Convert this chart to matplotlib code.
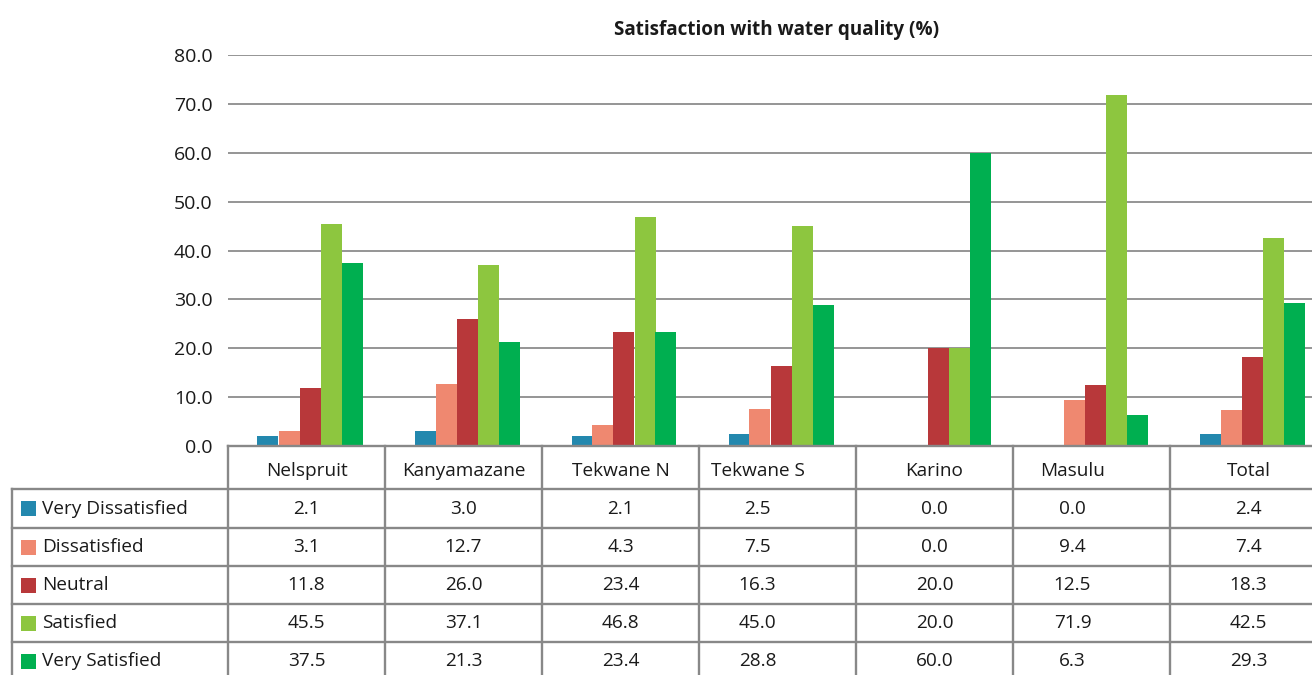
import matplotlib
matplotlib.use("Agg")
import matplotlib.pyplot as plt
import numpy as np

# Survey results: satisfaction with water quality (%)
categories = ["Nelspruit", "Kanyamazane", "Tekwane N", "Tekwane S", "Karino", "Masulu", "Total"]
series_names = ["Very Dissatisfied", "Dissatisfied", "Neutral", "Satisfied", "Very Satisfied"]
very_dissatisfied = [2.1, 3.0, 2.1, 2.5, 0.0, 0.0, 2.4]
dissatisfied = [3.1, 12.7, 4.3, 7.5, 0.0, 9.4, 7.4]
neutral = [11.8, 26.0, 23.4, 16.3, 20.0, 12.5, 18.3]
satisfied = [45.5, 37.1, 46.8, 45.0, 20.0, 71.9, 42.5]
very_satisfied = [37.5, 21.3, 23.4, 28.8, 60.0, 6.3, 29.3]
y_ticks = [0, 10, 20, 30, 40, 50, 60, 70, 80]

series = [very_dissatisfied, dissatisfied, neutral, satisfied, very_satisfied]
colors = ["#2388AE", "#EF8870", "#B8383A", "#8DC63F", "#00AF50"]

FONT = "Open Sans"
plt.rcParams["font.family"] = [FONT, "DejaVu Sans"]

W, H = 1312, 675
fig = plt.figure(figsize=(W / 100, H / 100), dpi=100)

# layout in pixels
x0 = 228          # left edge of the plot / first table column
col_w = 157       # width of one category column
y_zero = 446      # baseline of the bars
y_top = 55        # position of the 80.0 gridline
n = len(categories)

ax = fig.add_axes([x0 / W, (H - y_zero) / H, n * col_w / W, (y_zero - y_top) / H])
ax.set_xlim(0, n)
ax.set_ylim(0, 80)

bar_w = 21 / col_w
xc = np.arange(n) + 0.5 + 3.5 / col_w
for i, (vals, c) in enumerate(zip(series, colors)):
    ax.bar(xc + (i - 2) * bar_w, vals, width=bar_w, color=c, zorder=3, linewidth=0)

ax.set_yticks(y_ticks)
ax.set_yticklabels([f"{v:.1f}" for v in y_ticks], fontsize=14, color="#1a1a1a")
ax.yaxis.grid(True, color="#8c8c8c", linewidth=1.3)
ax.set_axisbelow(True)
ax.tick_params(axis="y", length=0, pad=11)
ax.set_xticks([])
for s in ax.spines.values():
    s.set_visible(False)

fig.text(777 / W, 1 - 29.5 / H, "Satisfaction with water quality (%)", ha="center", va="center",
         fontsize=13.6, fontweight="bold", color="#1a1a1a")

# data table drawn in pixel space
tab = fig.add_axes([0, 0, 1, 1], zorder=5)
tab.set_xlim(0, W)
tab.set_ylim(H, 0)
tab.axis("off")
tab.patch.set_alpha(0)

line_c = "#888888"
lw = 1.7
x_left = 12
header_top = y_zero
row_edges = [489, 528, 566, 604, 642, 681]
col_edges = [x0 + k * col_w for k in range(n + 1)]
text_shift = [0, 0, 0, -20, 0, -19, 0]

# horizontal lines
tab.plot([x0, col_edges[-1]], [header_top, header_top], color=line_c, lw=lw)
for y in row_edges:
    tab.plot([x_left, col_edges[-1]], [y, y], color=line_c, lw=lw)
# vertical lines
tab.plot([x_left, x_left], [row_edges[0], H + 10], color=line_c, lw=lw)
for x in col_edges:
    tab.plot([x, x], [header_top, H + 10], color=line_c, lw=lw)

fs = 13.7
for k, cat in enumerate(categories):
    cx = x0 + (k + 0.5) * col_w + text_shift[k]
    tab.text(cx, (header_top + row_edges[0]) / 2 + 3, cat, ha="center", va="center",
             fontsize=fs, color="#1a1a1a")

for r, (name, vals, c) in enumerate(zip(series_names, series, colors)):
    yc = (row_edges[r] + row_edges[r + 1]) / 2
    tab.add_patch(plt.Rectangle((21, yc - 7.5), 15, 15, color=c, lw=0))
    tab.text(42, yc, name, ha="left", va="center", fontsize=fs, color="#1a1a1a")
    for k, v in enumerate(vals):
        cx = x0 + (k + 0.5) * col_w + text_shift[k]
        tab.text(cx, yc, f"{v:.1f}", ha="center", va="center", fontsize=fs, color="#1a1a1a")

fig.savefig("out.png", dpi=100)
